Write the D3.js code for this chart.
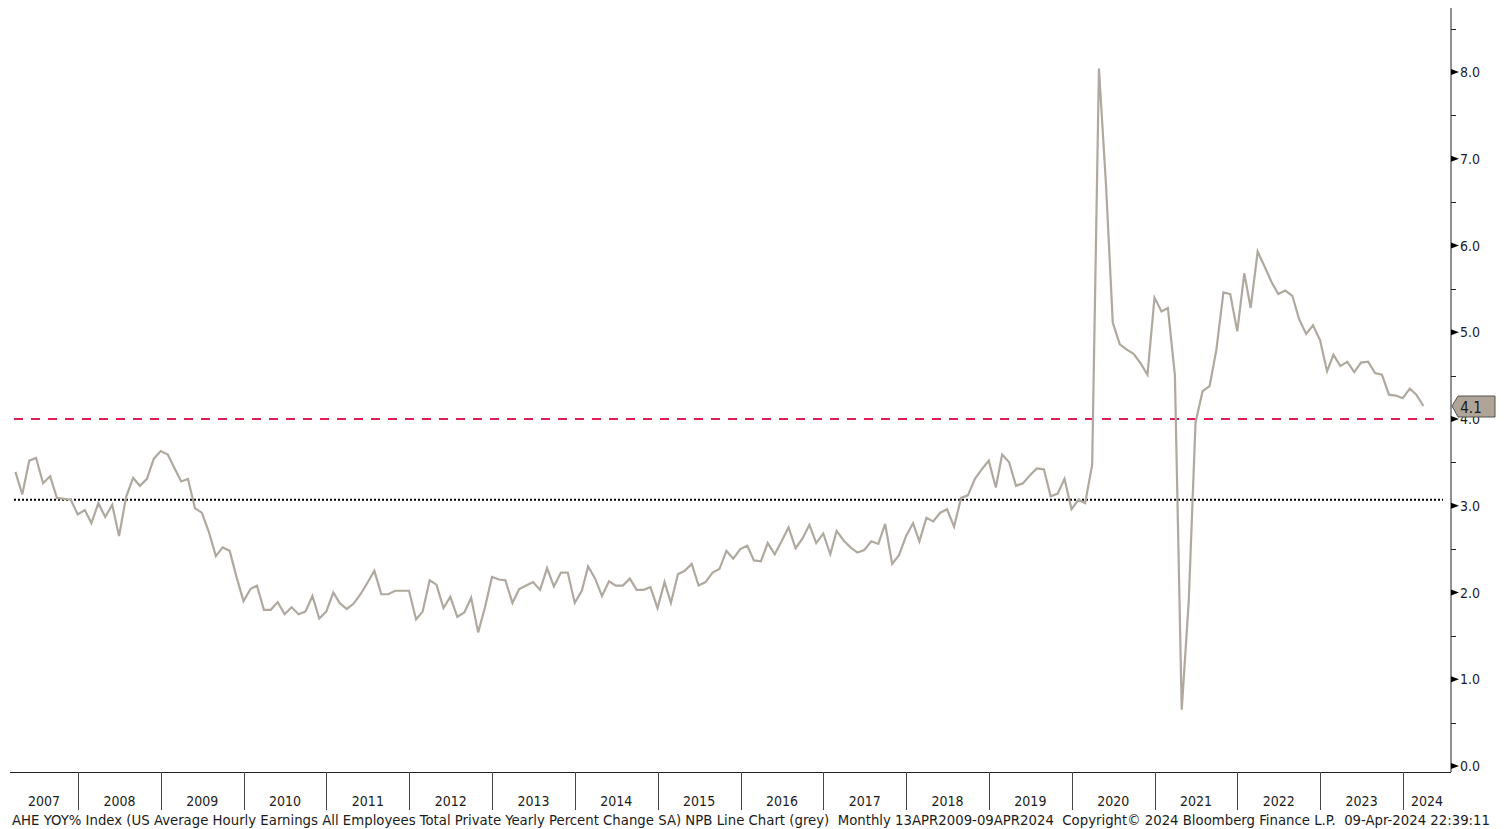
<!DOCTYPE html>
<html>
<head>
<meta charset="utf-8">
<script src="https://cdn.jsdelivr.net/npm/d3@7"></script>
<style>
  html, body { margin: 0; padding: 0; background: #fff; }
  svg { display: block; }
  text { font-family: "DejaVu Sans Condensed", "DejaVu Sans", "Liberation Sans", sans-serif; }
</style>
</head>
<body>
<svg id="chart" width="1505" height="829"></svg>
<script>
// ---------------- DATA ----------------
// Monthly AHE YoY %, first observation March 2007, last March 2024
const startYear = 2007;
const startMonth = 3; // March
const values = [
  3.39, 3.13, 3.52, 3.55, 3.26, 3.34, 3.09, 3.08, 3.07, 2.90, 2.95, 2.80,
  3.03, 2.87, 3.01, 2.65, 3.10, 3.32, 3.23, 3.31, 3.54, 3.63, 3.59, 3.44,
  3.28, 3.31, 2.97, 2.92, 2.70, 2.42, 2.52, 2.48, 2.18, 1.90, 2.04, 2.08,
  1.80, 1.80, 1.89, 1.75, 1.83, 1.75, 1.78, 1.96, 1.70, 1.78, 2.00, 1.88,
  1.81, 1.87, 1.98, 2.11, 2.25, 1.98, 1.98, 2.02, 2.02, 2.02, 1.69, 1.78,
  2.14, 2.09, 1.82, 1.95, 1.72, 1.77, 1.94, 1.54, 1.83, 2.18, 2.15, 2.14,
  1.88, 2.04, 2.08, 2.12, 2.03, 2.28, 2.07, 2.23, 2.23, 1.88, 2.02, 2.30,
  2.16, 1.96, 2.13, 2.08, 2.08, 2.16, 2.03, 2.03, 2.06, 1.82, 2.12, 1.88,
  2.21, 2.25, 2.33, 2.08, 2.12, 2.23, 2.27, 2.48, 2.39, 2.50, 2.54, 2.37,
  2.36, 2.57, 2.44, 2.59, 2.75, 2.51, 2.62, 2.78, 2.57, 2.68, 2.44, 2.71,
  2.60, 2.52, 2.46, 2.49, 2.59, 2.56, 2.79, 2.33, 2.43, 2.65, 2.80, 2.59,
  2.86, 2.82, 2.92, 2.96, 2.76, 3.09, 3.12, 3.31, 3.42, 3.52, 3.21, 3.59,
  3.50, 3.23, 3.26, 3.35, 3.43, 3.42, 3.11, 3.14, 3.31, 2.96, 3.07, 3.03,
  3.47, 8.04, 6.70, 5.11, 4.86, 4.80, 4.75, 4.64, 4.51, 5.40, 5.24, 5.28,
  4.50, 0.65, 1.90, 3.96, 4.32, 4.38, 4.80, 5.46, 5.44, 5.01, 5.68, 5.28,
  5.93, 5.76, 5.58, 5.44, 5.48, 5.42, 5.15, 4.98, 5.08, 4.91, 4.55, 4.74,
  4.61, 4.66, 4.54, 4.65, 4.66, 4.53, 4.51, 4.28, 4.27, 4.24, 4.35, 4.28,
  4.15
];
const lastLabel = "4.1";
const refDashed = 4.0;      // red dashed level
const refDotted = 3.07;     // black dotted level (average)
const yTicks = [0, 1, 2, 3, 4, 5, 6, 7, 8];
const yMinorTicks = [0.5, 1.5, 2.5, 3.5, 4.5, 5.5, 6.5, 7.5, 8.5];
const yearLabels = ["2007","2008","2009","2010","2011","2012","2013","2014","2015","2016","2017","2018","2019","2020","2021","2022","2023","2024"];
const footer = "AHE YOY% Index (US Average Hourly Earnings All Employees Total Private Yearly Percent Change SA) NPB Line Chart (grey)  Monthly 13APR2009-09APR2024  Copyright\u00A9 2024 Bloomberg Finance L.P.  09-Apr-2024 22:39:11";

// ---------------- LAYOUT ----------------
const svg = d3.select("#chart");
const plotLeft = 10, plotRight = 1451, plotTop = 8, plotBottom = 772;

// month-end dates
const dates = values.map((v, i) => new Date(startYear, startMonth - 1 + i + 1, 0));
const data = dates.map((d, i) => ({ d, v: values[i] }));

const x = d3.scaleTime()
  .domain([new Date(2008, 0, 1), new Date(2024, 0, 1)])
  .range([78, 1403]);
const y = d3.scaleLinear().domain([0, 8]).range([766, 72]);

// ---------------- REFERENCE LINES ----------------
svg.append("line")
  .attr("x1", 14).attr("x2", 1443)
  .attr("y1", y(refDotted)).attr("y2", y(refDotted))
  .attr("stroke", "#000").attr("stroke-width", 2)
  .attr("stroke-dasharray", "2,2");

svg.append("line")
  .attr("x1", 14).attr("x2", 1440)
  .attr("y1", y(refDashed)).attr("y2", y(refDashed))
  .attr("stroke", "#de1f55").attr("stroke-width", 2)
  .attr("stroke-dasharray", "9,8");

// ---------------- SERIES ----------------
const line = d3.line().x(p => x(p.d)).y(p => y(p.v));
svg.append("path")
  .datum(data)
  .attr("d", line)
  .attr("fill", "none")
  .attr("stroke", "#afa99f")
  .attr("stroke-width", 2.2)
  .attr("stroke-linejoin", "miter");

// ---------------- RIGHT AXIS ----------------
svg.append("line")
  .attr("x1", plotRight).attr("x2", plotRight)
  .attr("y1", plotTop).attr("y2", plotBottom)
  .attr("stroke", "#222").attr("stroke-width", 1);

svg.selectAll(".minor").data(yMinorTicks).enter().append("line")
  .attr("x1", plotRight).attr("x2", plotRight + 5)
  .attr("y1", d => Math.round(y(d)) + 0.5).attr("y2", d => Math.round(y(d)) + 0.5)
  .attr("stroke", "#222").attr("stroke-width", 1);

svg.selectAll(".major").data(yTicks).enter().append("path")
  .attr("d", d => {
    const yy = y(d);
    return `M${plotRight},${yy - 3}L${plotRight + 8},${yy}L${plotRight},${yy + 3}Z`;
  })
  .attr("fill", "#000");

svg.selectAll(".ylab").data(yTicks).enter().append("text")
  .attr("x", plotRight + 9)
  .attr("y", d => y(d) + 5)
  .attr("font-size", 14)
  .attr("fill", "#1c1c30")
  .text(d => d3.format(".1f")(d));

// ---------------- BOTTOM AXIS ----------------
svg.append("line")
  .attr("x1", plotLeft).attr("x2", plotRight)
  .attr("y1", plotBottom + 0.5).attr("y2", plotBottom + 0.5)
  .attr("stroke", "#222").attr("stroke-width", 1);

const yearStarts = yearLabels.map(s => new Date(+s, 0, 1));
svg.selectAll(".sep").data(yearStarts.slice(1)).enter().append("line")
  .attr("x1", d => Math.round(x(d)) + 0.5).attr("x2", d => Math.round(x(d)) + 0.5)
  .attr("y1", plotBottom).attr("y2", 810)
  .attr("stroke", "#444").attr("stroke-width", 1);

svg.selectAll(".xlab").data(yearLabels).enter().append("text")
  .attr("x", (s, i) => {
    const a = Math.max(plotLeft, x(yearStarts[i]));
    const b = Math.min(plotRight, x(new Date(+s + 1, 0, 1)));
    return (a + b) / 2;
  })
  .attr("y", 806)
  .attr("text-anchor", "middle")
  .attr("font-size", 14)
  .attr("fill", "#1c1c1c")
  .text(s => s);

// ---------------- LAST VALUE TAG ----------------
svg.append("path")
  .attr("d", `M${plotRight + 1},${406}L${plotRight + 7},${396}L1495,396L1495,417L${plotRight + 7},417Z`)
  .attr("fill", "#aea598")
  .attr("stroke", "#55524c")
  .attr("stroke-width", 1);
svg.append("text")
  .attr("x", 1471).attr("y", 413)
  .attr("text-anchor", "middle")
  .attr("font-size", 15)
  .attr("fill", "#1a1a22")
  .text(lastLabel);

// ---------------- FOOTER ----------------
svg.append("text")
  .attr("x", 12).attr("y", 825)
  .attr("font-size", 14)
  .attr("fill", "#1c1c1c")
  .attr("textLength", 1478)
  .attr("lengthAdjust", "spacingAndGlyphs")
  .attr("xml:space", "preserve")
  .style("white-space", "pre")
  .text(footer);
</script>
</body>
</html>
